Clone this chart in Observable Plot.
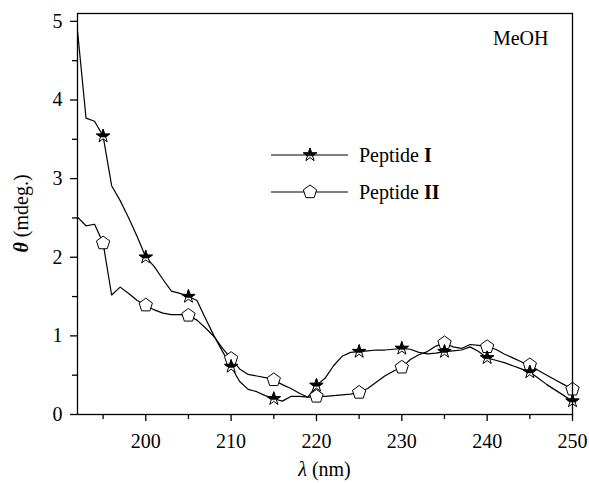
<!DOCTYPE html>
<html><head><meta charset="utf-8">
<script src="https://cdn.jsdelivr.net/npm/d3@7"></script>
<script src="https://cdn.jsdelivr.net/npm/@observablehq/plot@0.6"></script>
<style>
body{margin:0;background:#fff;}
#chart{width:589px;height:483px;}
#chart svg, #chart svg text, #chart svg g{font-family:"Liberation Serif","Times New Roman",serif !important;font-size:20px !important;}
</style></head><body><div id="chart"></div>
<script>
const wavelength = [192,193,194,195,196,197,198,199,200,201,202,203,204,205,206,207,208,209,210,211,212,213,214,215,216,217,218,219,220,221,222,223,224,225,226,227,228,229,230,231,232,233,234,235,236,237,238,239,240,241,242,243,244,245,246,247,248,249,250];
const peptideI = [4.88,3.77,3.73,3.54,2.91,2.72,2.50,2.26,2.00,1.88,1.72,1.57,1.54,1.50,1.45,1.22,1.00,0.80,0.61,0.42,0.32,0.29,0.24,0.20,0.17,0.23,0.23,0.22,0.37,0.46,0.62,0.74,0.79,0.80,0.81,0.82,0.82,0.83,0.84,0.83,0.79,0.77,0.78,0.80,0.81,0.82,0.86,0.80,0.72,0.69,0.66,0.62,0.58,0.54,0.46,0.38,0.31,0.24,0.17];
const peptideII = [2.51,2.40,2.42,2.18,1.52,1.62,1.54,1.45,1.39,1.33,1.29,1.27,1.27,1.26,1.20,1.10,0.99,0.84,0.71,0.58,0.51,0.49,0.47,0.44,0.38,0.33,0.27,0.22,0.23,0.23,0.24,0.25,0.26,0.28,0.33,0.41,0.49,0.55,0.60,0.70,0.76,0.80,0.87,0.91,0.86,0.84,0.89,0.88,0.86,0.83,0.77,0.72,0.67,0.63,0.56,0.50,0.44,0.38,0.32];
const markerWavelengths = [195,200,205,210,215,220,225,230,235,240,245,250];
const xTicks = [200,210,220,230,240,250];
const xMinorTicks = [195,205,215,225,235,245];
const yTicks = [0,1,2,3,4,5];
const yMinorTicks = [0.5,1.5,2.5,3.5,4.5];
const seriesNames = ["Peptide ", "Peptide "];
const seriesNumerals = ["I", "II"];
const solventLabel = "MeOH";

const dataI = wavelength.map((w,i)=>({w, v: peptideI[i]}));
const dataII = wavelength.map((w,i)=>({w, v: peptideII[i]}));
const markI = dataI.filter(d=>markerWavelengths.includes(d.w));
const markII = dataII.filter(d=>markerWavelengths.includes(d.w));

function starPoints(R){const pts=[];const ri=R*0.382;for(let k=0;k<10;k++){const a=-Math.PI/2+k*Math.PI/5;const r=k%2?ri:R;pts.push([r*Math.cos(a),r*Math.sin(a)]);}return pts;}
function clipBelow(pts,h){const out=[];for(let i=0;i<pts.length;i++){const p=pts[i],q=pts[(i+1)%pts.length];const pin=p[1]<=h,qin=q[1]<=h;if(pin)out.push(p);if(pin!==qin){const t=(h-p[1])/(q[1]-p[1]);out.push([p[0]+t*(q[0]-p[0]),h]);}}return out;}
function polyDraw(ctx,pts){ctx.moveTo(pts[0][0],pts[0][1]);for(let i=1;i<pts.length;i++)ctx.lineTo(pts[i][0],pts[i][1]);ctx.closePath();}
const starSym={draw(ctx,size){polyDraw(ctx,starPoints(Math.sqrt(size/Math.PI)));}};
const starTopSym={draw(ctx,size){const R=Math.sqrt(size/Math.PI);polyDraw(ctx,clipBelow(starPoints(R),R*0.12));}};
const pentSym={draw(ctx,size){const R=Math.sqrt(size/Math.PI);const pts=[];for(let k=0;k<5;k++){const a=-Math.PI/2+k*2*Math.PI/5;pts.push([R*Math.cos(a),R*Math.sin(a)]);}polyDraw(ctx,pts);}};

const R = 7;
const plot = Plot.plot({
  width:589, height:483, marginLeft:77, marginTop:13, marginRight:17, marginBottom:69,
  style:{fontFamily:"'Liberation Serif', 'Times New Roman', serif", fontSize:"20px", color:"black", background:"white", overflow:"visible"},
  x:{domain:[192,250]},
  y:{domain:[0,5.1]},
  marks:[
    Plot.axisX({ticks:xTicks, tickSize:7, tickPadding:12, label:null, tickFormat:d=>String(d), strokeWidth:1.3}),
    Plot.axisX({ticks:xMinorTicks, tickSize:5, label:null, tickFormat:()=>"", strokeWidth:1.3}),
    Plot.axisY({ticks:yTicks, tickSize:7, tickPadding:8, label:null, tickFormat:d=>String(d), strokeWidth:1.3}),
    Plot.axisY({ticks:yMinorTicks, tickSize:5, label:null, tickFormat:()=>"", strokeWidth:1.3}),
    Plot.line(dataI, {x:"w", y:"v", stroke:"black", strokeWidth:1.2}),
    Plot.line(dataII, {x:"w", y:"v", stroke:"black", strokeWidth:1.2}),
    Plot.dot(markII, {x:"w", y:"v", symbol:pentSym, r:R, fill:"white", stroke:"black", strokeWidth:1}),
    Plot.dot(markI, {x:"w", y:"v", symbol:starSym, r:R, fill:"white", stroke:"black", strokeWidth:1}),
    Plot.dot(markI, {x:"w", y:"v", symbol:starTopSym, r:R, fill:"black", stroke:"black", strokeWidth:0.6}),
    Plot.text([solventLabel], {frameAnchor:"top-right", dx:-24, dy:25, textAnchor:"end", lineAnchor:"middle", fill:"black"}),
    Plot.frame({stroke:"black", strokeWidth:1.3})
  ]
});
document.getElementById("chart").appendChild(plot);

const svg = d3.select(plot);
// axis labels
const xl = svg.append("text").attr("x", 324.5).attr("y", 476).attr("text-anchor","middle").attr("fill","black");
xl.append("tspan").attr("font-style","italic").text("λ");
xl.append("tspan").text(" (nm)");
const yl = svg.append("text").attr("transform","translate(28,213.5) rotate(-90)").attr("text-anchor","middle").attr("fill","black");
yl.append("tspan").attr("font-style","italic").attr("font-weight","bold").text("θ");
yl.append("tspan").text(" (mdeg.)");

// legend
const legendSymbols = [[{sym:starSym, fill:"white", sw:1},{sym:starTopSym, fill:"black", sw:0.6}], [{sym:pentSym, fill:"white", sw:1}]];
seriesNumerals.forEach((num,i)=>{
  const cy = 155 + i*37;
  const g = svg.append("g");
  g.append("line").attr("x1",271).attr("x2",348).attr("y1",cy).attr("y2",cy).attr("stroke","black").attr("stroke-width",1.2);
  legendSymbols[i].forEach(s=>{
    g.append("path").attr("transform",`translate(310,${cy})`).attr("d", d3.symbol(s.sym, R*R*Math.PI)()).attr("fill",s.fill).attr("stroke","black").attr("stroke-width",s.sw);
  });
  const t = g.append("text").attr("x",359).attr("y",cy).attr("dy","0.35em").attr("text-anchor","start").attr("fill","black");
  t.append("tspan").text(seriesNames[i]);
  t.append("tspan").attr("font-weight","bold").text(num);
});
</script>
</body></html>
